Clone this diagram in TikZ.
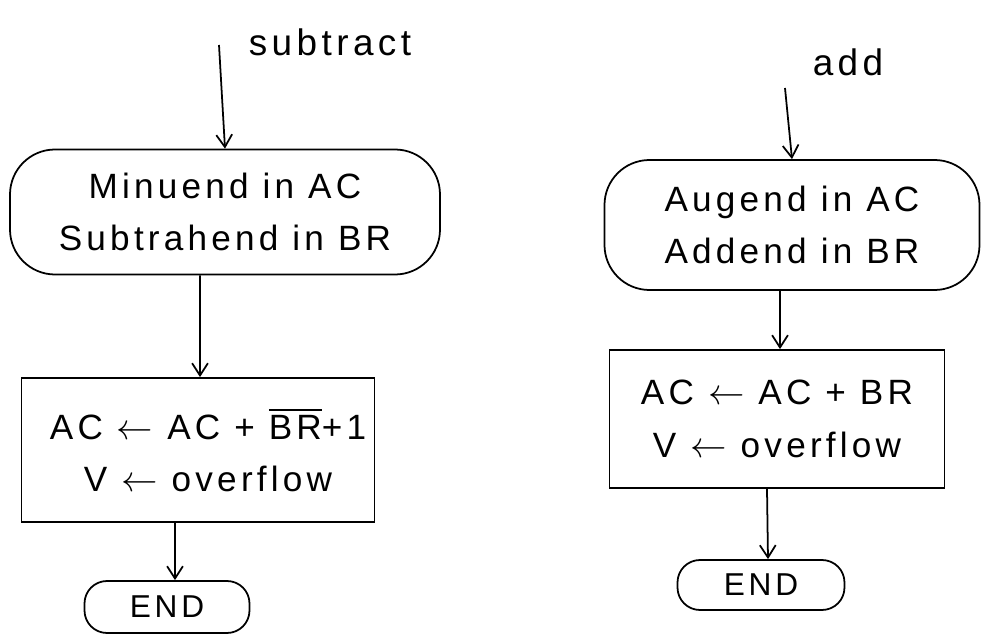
\documentclass[tikz,border=0pt]{standalone}
\usepackage{amsmath}
\usepackage{fontspec}
\setmainfont[LetterSpace=12]{Liberation Sans}
\usepackage{tikz}
\usetikzlibrary{arrows.meta,positioning,calc}

\begin{document}
\begin{tikzpicture}[
  lbl/.style={font=\fontsize{21}{24}\selectfont},
  stad/.style={draw,line width=1pt,rounded corners=0.9cm,align=center,font=\fontsize{20}{30}\selectfont,inner sep=0pt},
  calc/.style={draw,line width=1pt,align=center,font=\fontsize{20}{30}\selectfont,inner sep=0pt},
  endbox/.style={draw,line width=1pt,rounded corners=0.45cm,font=\fontsize{18}{22}\selectfont,inner sep=0pt},
  arr/.style={-{Straight Barb[length=7pt,width=9pt]},line width=1pt}]
  \useasboundingbox (0,0) rectangle (19.68,-12.68);
  % subtract
  \coordinate (lin) at (4.38,-0.9);
  \node[lbl] (lsubl) at (6.6,-0.84) {subtract};
  \node[stad,minimum width=8.6cm,minimum height=2.5cm] (lsub) at (4.5,-4.24) {Minuend in AC\\ Subtrahend in BR};
  \node[calc,minimum width=7.06cm,minimum height=2.88cm] (lcalc) at (3.96,-9.0) {\hspace{0.4cm}AC $\leftarrow$ AC + $\overline{\text{BR}}$+1\\ \hspace{0.4cm}V $\leftarrow$ overflow};
  \node[endbox,minimum width=3.3cm,minimum height=1.04cm] (lend) at (3.34,-12.14) {END};
  % add
  \coordinate (rin) at (15.7,-1.76);
  \node[lbl] (raddl) at (16.96,-1.24) {add};
  \node[stad,minimum width=7.5cm,minimum height=2.6cm] (radd) at (15.84,-4.5) {Augend in AC\\ Addend in BR};
  \node[calc,minimum width=6.7cm,minimum height=2.76cm] (rcalc) at (15.54,-8.38) {AC $\leftarrow$ AC + BR\\ V $\leftarrow$ overflow};
  \node[endbox,minimum width=3.34cm,minimum height=1.0cm] (rend) at (15.22,-11.7) {END};
  \draw[arr] (lin) -- (lsub.north);
  \draw[arr] ($(lsub.south)+(-0.5,0)$) -- ($(lcalc.north)+(0.04,0)$);
  \draw[arr] ($(lcalc.south)+(-0.46,0)$) -- ($(lend.north)+(0.16,0)$);
  \draw[arr] (rin) -- (radd.north);
  \draw[arr] ($(radd.south)+(-0.24,0)$) -- ($(rcalc.north)+(0.06,0)$);
  \draw[arr] ($(rcalc.south)+(-0.2,0)$) -- ($(rend.north)+(0.14,0)$);
\end{tikzpicture}
\end{document}
